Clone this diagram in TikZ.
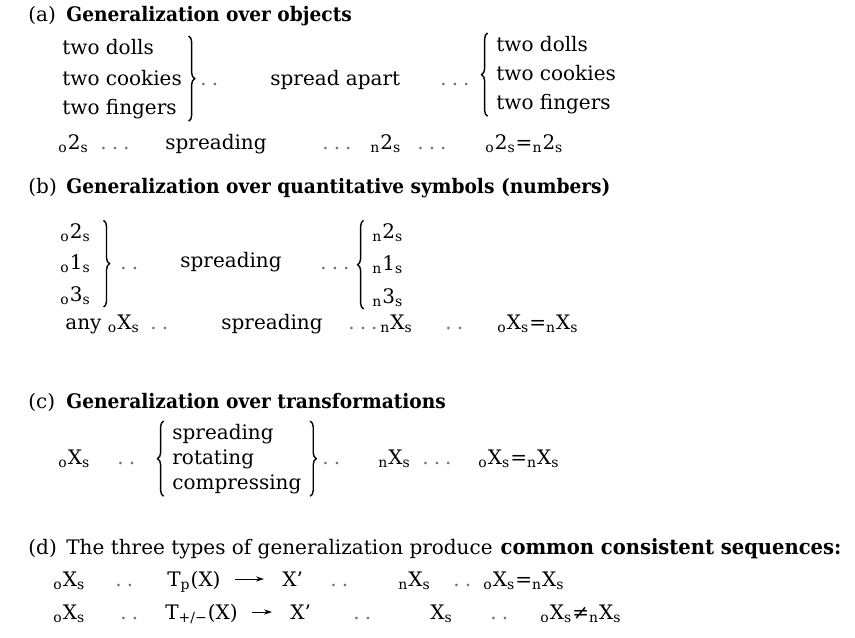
\documentclass[tikz,border=0pt]{standalone}
\usepackage{fontspec}
\setmainfont{DejaVu Serif}[BoldFeatures={FakeStretch=0.93}]
\usetikzlibrary{arrows.meta,fit,decorations.pathreplacing}
\tikzset{
  every node/.style={font=\fontsize{10}{12}\selectfont,inner sep=0pt,anchor=base west},
  head/.style={font=\fontsize{10}{12}\selectfont\bfseries},
  dots/.style={text=black!55},
  grp/.style={fit=#1,inner sep=1pt,anchor=center},
  brc/.style={decorate,decoration={brace,amplitude=3pt},line width=0.7pt},
  arr/.style={-{Stealth[length=4pt,width=2.6pt]},line width=0.5pt,shorten <=7pt,shorten >=9pt},
}
\newcommand{\sx}[3]{\textsubscript{#1}#2\textsubscript{#3}}
\newcommand{\dtwo}{.\hspace{2.5pt}.}
\newcommand{\dthree}{.\hspace{2.5pt}.\hspace{2.5pt}.}

\begin{document}
\begin{tikzpicture}[x=0.5pt,y=-0.5pt]
  \useasboundingbox (0,0) rectangle (855,637);

  \node (labA) at (28,21) {(a)};
  \node[head] (headA) at (66,21) {Generalization over objects};
  \node (aL1) at (62,54) {two dolls};
  \node (aL2) at (62,85) {two cookies};
  \node (aL3) at (62,114) {two fingers};
  \node[grp={(aL1)(aL2)(aL3)}] (aL) {};
  \node[dots] (aD1) at (200,85) {\dtwo};
  \node (aMid) at (270,85) {spread apart};
  \node[dots] (aD2) at (440,85) {\dthree};
  \node (aR1) at (496,51) {two dolls};
  \node (aR2) at (496,80) {two cookies};
  \node (aR3) at (496,109) {two fingers};
  \node[grp={(aR1)(aR2)(aR3)}] (aR) {};
  \draw[brc] ([xshift=2pt]aL.north east) -- ([xshift=2pt]aL.south east);
  \draw[brc] ([xshift=-3pt]aR.south west) -- ([xshift=-3pt]aR.north west);

  \node (aO) at (58,149) {\sx{o}{2}{s}};
  \node[dots] (aD3) at (100,149) {\dthree};
  \node (aSp) at (165,149) {spreading};
  \node[dots] (aD4) at (322,149) {\dthree};
  \node (aN) at (370,149) {\sx{n}{2}{s}};
  \node[dots] (aD5) at (417,149) {\dthree};
  \node (aEq) at (485,149) {\sx{o}{2}{s}=\sx{n}{2}{s}};

  \node (labB) at (28,193) {(b)};
  \node[head] (headB) at (66,193) {Generalization over quantitative symbols (numbers)};
  \node (bL1) at (60,238) {\sx{o}{2}{s}};
  \node (bL2) at (60,269) {\sx{o}{1}{s}};
  \node (bL3) at (60,301) {\sx{o}{3}{s}};
  \node[grp={(bL1)(bL2)(bL3)}] (bL) {};
  \node[dots] (bD1) at (120,269) {\dtwo};
  \node (bMid) at (180,267) {spreading};
  \node[dots] (bD2) at (320,269) {\dthree};
  \node (bR1) at (372,238) {\sx{n}{2}{s}};
  \node (bR2) at (372,270) {\sx{n}{1}{s}};
  \node (bR3) at (372,303) {\sx{n}{3}{s}};
  \node[grp={(bR1)(bR2)(bR3)}] (bR) {};
  \draw[brc] ([xshift=5pt]bL.north east) -- ([xshift=5pt]bL.south east);
  \draw[brc] ([xshift=-3pt]bR.south west) -- ([xshift=-3pt]bR.north west);

  \node (bAny) at (65,329) {any \sx{o}{X}{s}};
  \node[dots] (bD3) at (150,329) {\dtwo};
  \node (bSp) at (221,329) {spreading};
  \node[dots] (bD4) at (348,329) {\dthree};
  \node (bN) at (380,329) {\sx{n}{X}{s}};
  \node[dots] (bD5) at (445,329) {\dtwo};
  \node (bEq) at (497,329) {\sx{o}{X}{s}=\sx{n}{X}{s}};

  \node (labC) at (28,408) {(c)};
  \node[head] (headC) at (66,408) {Generalization over transformations};
  \node (cO) at (58,464) {\sx{o}{X}{s}};
  \node[dots] (cD1) at (117,464) {\dtwo};
  \node (cT1) at (172,439) {spreading};
  \node (cT2) at (172,464) {rotating};
  \node (cT3) at (172,489) {compressing};
  \node[grp={(cT1)(cT2)(cT3)}] (cT) {};
  \draw[brc] ([xshift=-3pt]cT.south west) -- ([xshift=-3pt]cT.north west);
  \draw[brc] ([xshift=3pt]cT.north east) -- ([xshift=3pt]cT.south east);
  \node[dots] (cD2) at (322,464) {\dtwo};
  \node (cN) at (378,464) {\sx{n}{X}{s}};
  \node[dots] (cD3) at (422,464) {\dthree};
  \node (cEq) at (478,464) {\sx{o}{X}{s}=\sx{n}{X}{s}};

  \node (labD) at (28,554) {(d)};
  \node (headD) at (66,554) {The three types of generalization produce\hspace{4pt}{\fontsize{10.5}{12}\selectfont\bfseries common consistent sequences:}};

  \node (dO1) at (53,586) {\sx{o}{X}{s}};
  \node[dots] (dD1) at (115,586) {\dtwo};
  \node (dT1) at (167,586) {T\textsubscript{p}(X)};
  \node (dX1) at (282,586) {X’};
  \node[dots] (dD2) at (330,586) {\dtwo};
  \node (dN1) at (398,586) {\sx{n}{X}{s}};
  \node[dots] (dD3) at (453,586) {\dtwo};
  \node (dEq1) at (483,586) {\sx{o}{X}{s}=\sx{n}{X}{s}};
  \draw[arr] ([yshift=3.5pt]dT1.base east) -- ([yshift=3.5pt]dX1.base west);

  \node (dO2) at (53,619) {\sx{o}{X}{s}};
  \node[dots] (dD4) at (120,619) {\dtwo};
  \node (dT2) at (165,619) {T\textsubscript{+/−}(X)};
  \node (dX2) at (290,619) {X’};
  \node[dots] (dD5) at (353,619) {\dtwo};
  \node (dN2) at (430,619) {X\textsubscript{s}};
  \node[dots] (dD6) at (490,619) {\dtwo};
  \node (dEq2) at (540,619) {\sx{o}{X}{s}≠\sx{n}{X}{s}};
  \draw[arr] ([yshift=3.5pt]dT2.base east) -- ([yshift=3.5pt]dX2.base west);
\end{tikzpicture}
\end{document}
